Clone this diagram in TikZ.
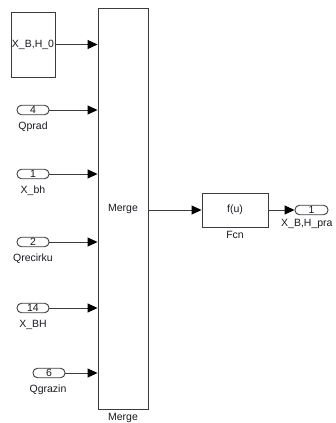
\documentclass[tikz,border=0pt]{standalone}
\usepackage{fontspec}
\setmainfont{Liberation Sans}
\usetikzlibrary{arrows.meta, positioning}
\definecolor{slkline}{RGB}{60, 60, 60}
\definecolor{slktext}{RGB}{25, 25, 35}
\tikzstyle{block} = [rectangle, draw=slkline, fill=white, line width=0.9pt, 
                     inner sep=0pt, text=slktext]
\tikzstyle{port} = [rectangle, rounded corners=4.5pt, draw=slkline, line width=0.9pt, 
                    minimum width=32pt, minimum height=9.5pt, inner sep=0pt, text=slktext]
\tikzstyle{portlabel} = [text=slktext, inner sep=0pt]
\tikzstyle{signal} = [-{Triangle[length=10pt, width=9pt, black]}, line width=0.9pt, slkline]
\begin{document}
\begin{tikzpicture}[x=1pt, y=-1pt, font=\fontsize{10.5}{12}\selectfont]

\clip (0,0) rectangle (335,423);

% Constant block
\node[block, minimum width=44pt, minimum height=65pt] (const) at (33,44.5) {X\_B,H\_0};

% Merge block
\node[block, minimum width=50pt, minimum height=401pt] (merge) at (123,208.5) {Merge};
\node[portlabel] (lmerge) at (123,418) {Merge};

% Inports
\node[port] (in4) at (33,110) {4};
\node[port] (in1) at (33,174) {1};
\node[port] (in2) at (33,242) {2};
\node[port] (in14) at (33,308) {14};
\node[port] (in6) at (49,373) {6};

% Inport labels
\node[portlabel] (lqprad) at (33,127) {Qprad};
\node[portlabel] (lxbh) at (33,191) {X\_bh};
\node[portlabel] (lqrecirku) at (33,259) {Qrecirku};
\node[portlabel] (lxbhbig) at (33,325) {X\_BH};
\node[portlabel] (lqgrazin) at (48,390) {Qgrazin};

% Fcn block
\node[block, minimum width=66pt, minimum height=34pt] (fcn) at (235,210) {f(u)};
\node[portlabel] (lfcn) at (235,235) {Fcn};

% Outport
\node[port, minimum width=33pt] (out1) at (311.5,210) {1};
\node[portlabel, anchor=west] (lout1) at (281,224) {X\_B,H\_pra};

% Signals
\draw[signal] (const) -- (const -| merge.west);
\draw[signal] (in4) -- (in4 -| merge.west);
\draw[signal] (in1) -- (in1 -| merge.west);
\draw[signal] (in2) -- (in2 -| merge.west);
\draw[signal] (in14) -- (in14 -| merge.west);
\draw[signal] (in6) -- (in6 -| merge.west);

\draw[signal] (merge.east |- fcn) -- (fcn);
\draw[signal] (fcn) -- (out1);

\end{tikzpicture}
\end{document}
